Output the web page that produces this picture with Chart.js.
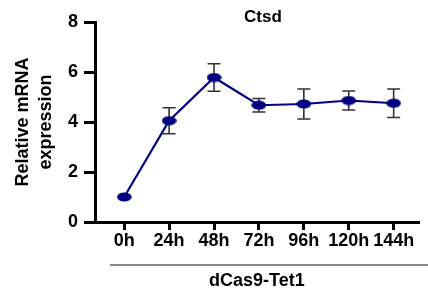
<!DOCTYPE html>
<html>
<head>
<meta charset="utf-8">
<script src="https://cdn.jsdelivr.net/npm/chart.js@4/dist/chart.umd.min.js"></script>
<style>
html,body{margin:0;padding:0;background:#fff;}
#wrap{width:428px;height:298px;}
</style>
</head>
<body>
<div id="wrap"><canvas id="c" width="428" height="298"></canvas></div>
<script>
const categories = ['0h','24h','48h','72h','96h','120h','144h'];
const means = [1.0, 4.05, 5.78, 4.67, 4.72, 4.86, 4.75];
const sds = [0, 0.52, 0.55, 0.27, 0.6, 0.38, 0.57];
const yTicks = [0, 2, 4, 6, 8];
const chartTitle = 'Ctsd';
const yTitle = ['Relative mRNA', 'expression'];
const xTitle = 'dCas9-Tet1';

const FONT = '"Liberation Sans", Arial, sans-serif';
const NAVY = '#000080';

// ellipse marker
const mk = document.createElement('canvas');
mk.width = 15; mk.height = 10;
(function(){
  const g = mk.getContext('2d');
  g.fillStyle = NAVY;
  g.beginPath();
  g.ellipse(7.5, 5, 7.3, 4.6, 0, 0, Math.PI*2);
  g.fill();
})();

const errorBars = {
  id: 'errorBars',
  beforeDatasetsDraw(chart) {
    const {ctx, scales:{x, y}} = chart;
    ctx.save();
    ctx.strokeStyle = '#333';
    ctx.lineWidth = 1.6;
    means.forEach((m, i) => {
      if (!sds[i]) return;
      const px = x.getPixelForValue(i);
      const top = y.getPixelForValue(m + sds[i]);
      const bot = y.getPixelForValue(m - sds[i]);
      ctx.beginPath();
      ctx.moveTo(px, top); ctx.lineTo(px, bot);
      ctx.moveTo(px - 6.5, top); ctx.lineTo(px + 6.5, top);
      ctx.moveTo(px - 6.5, bot); ctx.lineTo(px + 6.5, bot);
      ctx.stroke();
    });
    ctx.restore();
  },
  afterDraw(chart) {
    const {ctx, chartArea} = chart;
    ctx.save();
    ctx.fillStyle = '#000';
    ctx.font = 'bold 17px ' + FONT;
    ctx.textAlign = 'center';
    ctx.textBaseline = 'middle';
    ctx.fillText(chartTitle, (chartArea.left + chartArea.right)/2 + 6, 17);
    ctx.strokeStyle = '#888';
    ctx.lineWidth = 2;
    ctx.beginPath();
    ctx.moveTo(110, 265); ctx.lineTo(428, 265);
    ctx.stroke();
    ctx.restore();
  }
};

new Chart(document.getElementById('c'), {
  type: 'line',
  data: {
    datasets: [{
      data: means.map((v, i) => ({x: i, y: v})),
      borderColor: NAVY,
      borderWidth: 2.2,
      pointStyle: mk,
      pointRadius: 7,
      tension: 0,
      clip: false
    }]
  },
  options: {
    responsive: false,
    animation: false,
    devicePixelRatio: 1,
    layout: {padding: {top: 22, right: 0, left: 0, bottom: 0}},
    plugins: {legend: {display: false}, tooltip: {enabled: false}, title: {display: false}},
    scales: {
      x: {
        type: 'linear',
        min: -0.65, max: 6.56,
        afterBuildTicks: s => { s.ticks = categories.map((c, i) => ({value: i})); },
        afterFit: s => { s.height = 76; },
        ticks: {
          callback: v => categories[v],
          color: '#000',
          font: {family: FONT, size: 18, weight: 'bold'},
          padding: 0,
          maxRotation: 0,
          autoSkip: false
        },
        grid: {display: true, drawOnChartArea: false, drawTicks: true, tickLength: 8, color: '#000', lineWidth: 3},
        border: {display: true, color: '#000', width: 3},
        title: {display: true, text: xTitle, color: '#000', font: {family: FONT, size: 18, weight: 'bold'}, padding: {top: 0, bottom: 6}}
      },
      y: {
        min: 0, max: 8,
        afterBuildTicks: s => { s.ticks = yTicks.map(v => ({value: v})); },
        afterFit: s => { s.width = 95; },
        ticks: {
          color: '#000',
          font: {family: FONT, size: 18, weight: 'bold'},
          padding: 6
        },
        grid: {display: true, drawOnChartArea: false, drawTicks: true, tickLength: 11, color: '#000', lineWidth: 3},
        border: {display: true, color: '#000', width: 3},
        title: {display: true, text: yTitle, color: '#000', font: {family: FONT, size: 18, weight: 'bold', lineHeight: 1.3}, padding: {top: 11, bottom: 0}}
      }
    }
  },
  plugins: [errorBars]
});
</script>
</body>
</html>
